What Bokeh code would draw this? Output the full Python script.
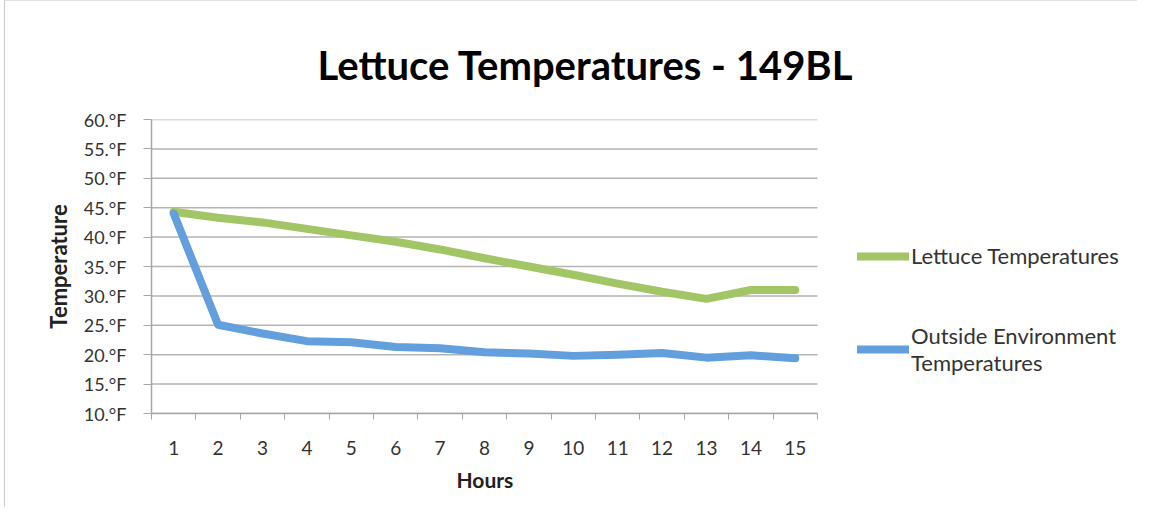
from bokeh.plotting import figure
from bokeh.models import FixedTicker, PrintfTickFormatter, Legend, LegendItem, Range1d, Title
from bokeh.embed import file_html
from bokeh.resources import INLINE

hours = list(range(1, 16))
lettuce = [44.3, 43.3, 42.5, 41.4, 40.3, 39.2, 37.9, 36.4, 35.0, 33.6, 32.1, 30.7, 29.5, 31.0, 31.0]
outside = [44.0, 25.1, 23.6, 22.3, 22.1, 21.3, 21.1, 20.4, 20.2, 19.8, 20.0, 20.3, 19.5, 19.9, 19.4]
y_ticks = [10, 15, 20, 25, 30, 35, 40, 45, 50, 55, 60]
title_text = "Lettuce Temperatures - 149BL"
x_label = "Hours"
y_label = "Temperature"
series_names = ["Lettuce Temperatures", "Outside Environment\nTemperatures"]

FONT = "Lato"
GREEN = "#a2c565"
BLUE = "#639fdc"
GRID = "#b3b3b3"
AXIS = "#a6a6a6"

W, H = 1133, 507
ML, MT, MR, MB = 146, 118, 2, 95
AXIS_PX = 666  # pixel width of the hours axis; the frame extends further right to host the legend
frame_w = W - ML - MR
x_lo, x_hi = hours[0] - 0.5, hours[-1] + 0.5
x_end = x_lo + (x_hi - x_lo) * frame_w / AXIS_PX

p = figure(width=W, height=H, output_backend="svg", toolbar_location=None,
           x_range=Range1d(x_lo, x_end), y_range=Range1d(y_ticks[0], y_ticks[-1]),
           min_border_left=ML, min_border_top=MT, min_border_right=MR, min_border_bottom=MB)
p.outline_line_color = None
p.styles = {"border-top": "1px solid #e2e2e2", "border-left": "1px solid #c8c8c8",
            "margin-left": "4px"}

p.title.text = title_text
p.title.text_font = FONT
p.title.text_font_size = "40px"
p.title.text_font_style = "bold"
p.title.align = "left"
p.title.offset = 166
p.title.text_color = "#000000"
p.title.standoff = 62

# horizontal grid lines limited to the hours axis span
p.xgrid.grid_line_color = None
p.ygrid.grid_line_color = None
p.segment(x0=[x_lo] * len(y_ticks), x1=[x_hi] * len(y_ticks), y0=y_ticks, y1=y_ticks,
          line_color=GRID, line_width=1.5)

l1 = p.line(hours, lettuce, line_color=GREEN, line_width=8, line_cap="round", line_join="round")
l2 = p.line(hours, outside, line_color=BLUE, line_width=8, line_cap="round", line_join="round")

# x axis
p.xaxis.bounds = (x_lo, x_hi)
p.xaxis.ticker = FixedTicker(ticks=hours, minor_ticks=[h - 0.5 for h in hours] + [x_hi])
p.xaxis.major_tick_line_color = None
p.xaxis.minor_tick_line_color = AXIS
p.xaxis.minor_tick_in = 0
p.xaxis.minor_tick_out = 6
p.xaxis.axis_line_color = AXIS
p.xaxis.axis_line_width = 1.5
p.xaxis.major_label_standoff = 21
p.xaxis.major_label_text_font = FONT
p.xaxis.major_label_text_font_size = "19px"
p.xaxis.major_label_text_color = "#333333"

# x axis title, centred under the hours axis
xt = Title(text=x_label, text_font=FONT, text_font_size="21px", text_font_style="bold",
           text_color="#222222", align="left", offset=305, standoff=14)
p.add_layout(xt, "below")

# y axis
p.yaxis.ticker = FixedTicker(ticks=y_ticks)
p.yaxis.formatter = PrintfTickFormatter(format="%d.°F")
p.yaxis.minor_tick_line_color = None
p.yaxis.major_tick_line_color = AXIS
p.yaxis.major_tick_in = 0
p.yaxis.major_tick_out = 8
p.yaxis.axis_line_color = AXIS
p.yaxis.axis_line_width = 1.5
p.yaxis.major_label_standoff = 17
p.yaxis.major_label_text_font = FONT
p.yaxis.major_label_text_font_size = "18px"
p.yaxis.major_label_text_color = "#333333"
p.yaxis.axis_label = y_label
p.yaxis.axis_label_text_font = FONT
p.yaxis.axis_label_text_font_size = "22px"
p.yaxis.axis_label_text_font_style = "bold"
p.yaxis.axis_label_text_color = "#222222"
p.yaxis.axis_label_standoff = 9

legend = Legend(items=[LegendItem(label=series_names[0], renderers=[l1]),
                       LegendItem(label=series_names[1], renderers=[l2])],
                location=(706, 37))
legend.border_line_color = None
legend.background_fill_alpha = 0
legend.padding = 0
legend.margin = 0
legend.glyph_width = 52
legend.glyph_height = 20
legend.label_standoff = 2
legend.spacing = 53
legend.label_text_font = FONT
legend.label_text_font_size = "22px"
legend.label_text_color = "#333333"
p.add_layout(legend, "center")

open("out.html", "w").write(file_html(p, INLINE))
